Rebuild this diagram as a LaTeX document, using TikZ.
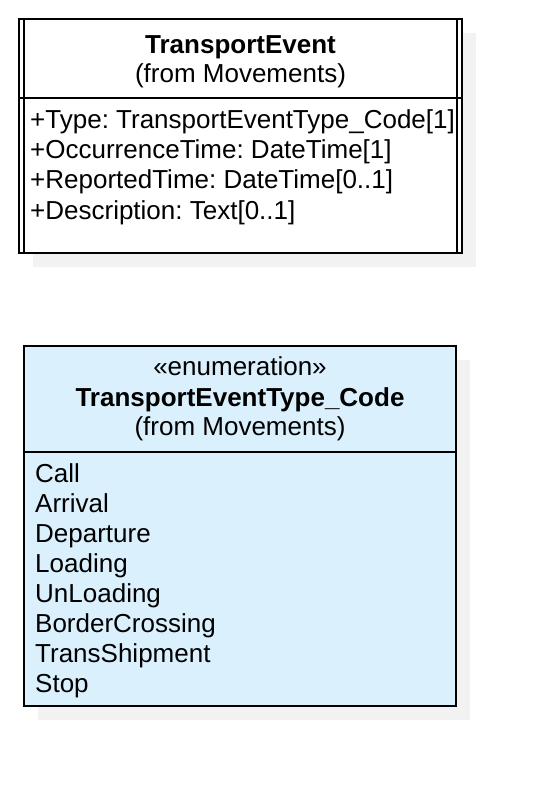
\documentclass[tikz,border=0pt]{standalone}
\usepackage{fontspec}
\setmainfont{Liberation Sans}
\frenchspacing
\definecolor{enumblue}{RGB}{218,240,253}
\definecolor{shadowgray}{RGB}{242,242,242}
\tikzset{
  umltext/.style={inner sep=0pt, font=\fontsize{26}{30}\selectfont},
  umlframe/.style={draw=black, line width=2pt},
}
\begin{document}
\begin{tikzpicture}[x=1pt,y=-1pt]
    \useasboundingbox (0,0) rectangle (542,786);

    % TransportEvent クラス(影と二重線の枠)
    \fill[shadowgray] (33,33) rectangle (476,267);
    \draw[umlframe, fill=white] (19,19) rectangle (462,253);
    \draw[line width=1.5pt] (24,19) -- (24,253);
    \draw[line width=1.5pt] (457,19) -- (457,253);
    \draw[line width=1.5pt] (19,98) -- (462,98);

    \node[umltext, anchor=base] (eventname) at (240.5,54) {\textbf{TransportEvent}};
    \node[umltext, anchor=base] (eventpkg) at (240.5,83) {(from Movements)};

    % 属性を描画
    \foreach \attr [count=\i] in {{+Type: TransportEventType\_Code[1]},{+OccurrenceTime: DateTime[1]},{+ReportedTime: DateTime[0..1]},{+Description: Text[0..1]}}
        \node[umltext, anchor=base west] (attr\i) at (30,99+30*\i) {\attr};

    % TransportEventType_Code 列挙型
    \fill[shadowgray] (38,360) rectangle (470,720);
    \draw[umlframe, fill=enumblue] (24,346) rectangle (456,706);
    \draw[line width=1.5pt] (24,452) -- (456,452);

    \node[umltext, anchor=base] (stereo) at (240,375) {«enumeration»};
    \node[umltext, anchor=base] (codename) at (240,406) {\textbf{TransportEventType\_Code}};
    \node[umltext, anchor=base] (codepkg) at (240,435) {(from Movements)};

    % 列挙値を描画
    \foreach \val [count=\i] in {Call,Arrival,Departure,Loading,UnLoading,BorderCrossing,TransShipment,Stop}
        \node[umltext, anchor=base west] (val\i) at (35,452+30*\i) {\val};
\end{tikzpicture}
\end{document}
